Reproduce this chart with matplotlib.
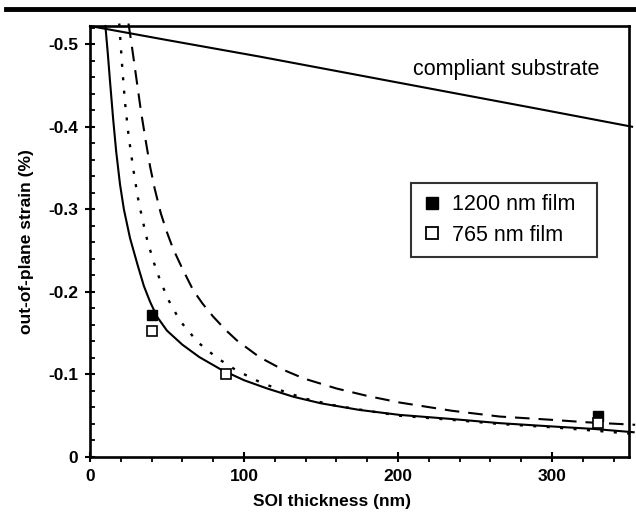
import numpy as np
import matplotlib
matplotlib.use("Agg")
import matplotlib.pyplot as plt
from matplotlib.lines import Line2D
from matplotlib.ticker import MultipleLocator, FuncFormatter

plt.rcParams['font.family'] = ['Liberation Sans', 'DejaVu Sans']

# compliant substrate curve
comp_x = [0, 50, 110, 170, 230, 290, 352]
comp_y = [-0.522, -0.505, -0.485, -0.464, -0.443, -0.422, -0.400]

# model curves (solid, dotted, dashed)
solid_x = [10, 11.5, 13, 15, 17, 19.5, 22, 26, 31, 35, 39, 43.5, 50, 60, 71, 85,
           100, 115, 132, 150, 175, 201, 235, 266, 300, 327, 353]
solid_y = [-0.522, -0.49, -0.455, -0.41, -0.37, -0.33, -0.30, -0.265, -0.232, -0.207,
           -0.188, -0.170, -0.153, -0.136, -0.121, -0.106, -0.093, -0.083, -0.073,
           -0.065, -0.057, -0.051, -0.046, -0.041, -0.037, -0.034, -0.030]
dot_x = [19, 21, 22.7, 25, 28, 31, 34, 37, 41, 45.5, 51, 58.4, 70, 82.5, 95, 110,
         125, 139, 160, 180, 201, 235, 266, 300, 327, 353]
dot_y = [-0.525, -0.47, -0.43, -0.39, -0.350, -0.315, -0.288, -0.264, -0.238, -0.214,
         -0.190, -0.165, -0.139, -0.120, -0.105, -0.091, -0.080, -0.071, -0.062,
         -0.056, -0.050, -0.045, -0.040, -0.036, -0.032, -0.028]
dash_x = [25, 27, 30, 33, 36, 39, 42, 46, 50, 54, 60, 67, 73, 80, 88, 95.5, 110,
          125, 139, 160, 180, 201, 235, 266, 300, 323, 354]
dash_y = [-0.525, -0.50, -0.46, -0.42, -0.385, -0.352, -0.325, -0.295, -0.272, -0.252,
          -0.228, -0.202, -0.186, -0.170, -0.154, -0.141, -0.121, -0.106, -0.095,
          -0.083, -0.074, -0.066, -0.056, -0.049, -0.045, -0.042, -0.039]

# measured points
film1200_x = [40, 330]
film1200_y = [-0.172, -0.050]
film765_x = [40, 88, 330]
film765_y = [-0.153, -0.100, -0.041]

fig = plt.figure(figsize=(6.36, 5.14), dpi=100)
ax = fig.add_axes([90 / 636, 57 / 514, 539 / 636, 431 / 514])

ax.plot(comp_x, comp_y, '-', color='black', lw=1.5, clip_on=False)
ax.plot(solid_x, solid_y, '-', color='black', lw=1.5, clip_on=False)
ax.plot(dot_x, dot_y, color='black', lw=1.7, linestyle=(0, (1.3, 4.4)), clip_on=False)
ax.plot(dash_x, dash_y, color='black', lw=1.5, linestyle=(0, (7, 4.3)), clip_on=False)

ax.plot(film1200_x, film1200_y, 's', color='black', ms=7.7, mec='black', zorder=5, clip_on=False)
ax.plot(film765_x, film765_y, 's', mfc='white', mec='black', ms=7.7, mew=1.2, zorder=6, clip_on=False)

ax.text(210, -0.469, 'compliant substrate', fontsize=15.5, va='center', ha='left')

ax.set_xlim(0, 350)
ax.set_ylim(0, -0.522)

ax.xaxis.set_major_locator(MultipleLocator(100))
ax.xaxis.set_minor_locator(MultipleLocator(20))
ax.yaxis.set_major_locator(MultipleLocator(0.1))
ax.yaxis.set_minor_locator(MultipleLocator(0.02))
ax.yaxis.set_major_formatter(FuncFormatter(lambda v, p: '0' if abs(v) < 1e-9 else f'{v:.1f}'))

ax.tick_params(which='major', direction='inout', length=7, width=1.5, labelsize=12.5, pad=5)
ax.tick_params(axis='x', which='minor', direction='out', length=3.5, width=1.3)
ax.tick_params(axis='y', which='minor', direction='in', length=3.5, width=1.3)
for lab in ax.get_xticklabels() + ax.get_yticklabels():
    lab.set_fontweight('bold')
for sp in ax.spines.values():
    sp.set_linewidth(1.9)

ax.set_xlabel('SOI thickness (nm)', fontsize=12.5, fontweight='bold')
ax.set_ylabel('out-of-plane strain (%)', fontsize=12.5, fontweight='bold')
ax.xaxis.set_label_coords(0.449, -0.086)
ax.yaxis.set_label_coords(-0.104, 0.5)

handles = [
    Line2D([], [], marker='s', linestyle='none', color='black', ms=9),
    Line2D([], [], marker='s', linestyle='none', mfc='white', mec='black', mew=1.3, ms=9),
]
leg = ax.legend(handles, ['1200 nm film', '765 nm film'], loc='upper left',
                bbox_to_anchor=(0.596, 0.448, 0.345, 0.188), mode='expand',
                borderaxespad=0, fontsize=15.5, frameon=True, fancybox=False,
                handlelength=0.9, handletextpad=0.47, borderpad=0.53, labelspacing=0.45)
leg.get_frame().set_edgecolor('black')
leg.get_frame().set_linewidth(1.5)

# thick rule across the top
fig.add_artist(Line2D([6 / 636, 1.0], [1 - 9 / 514, 1 - 9 / 514], color='black',
                      lw=3.5, transform=fig.transFigure))

fig.savefig('out.png', dpi=100)
